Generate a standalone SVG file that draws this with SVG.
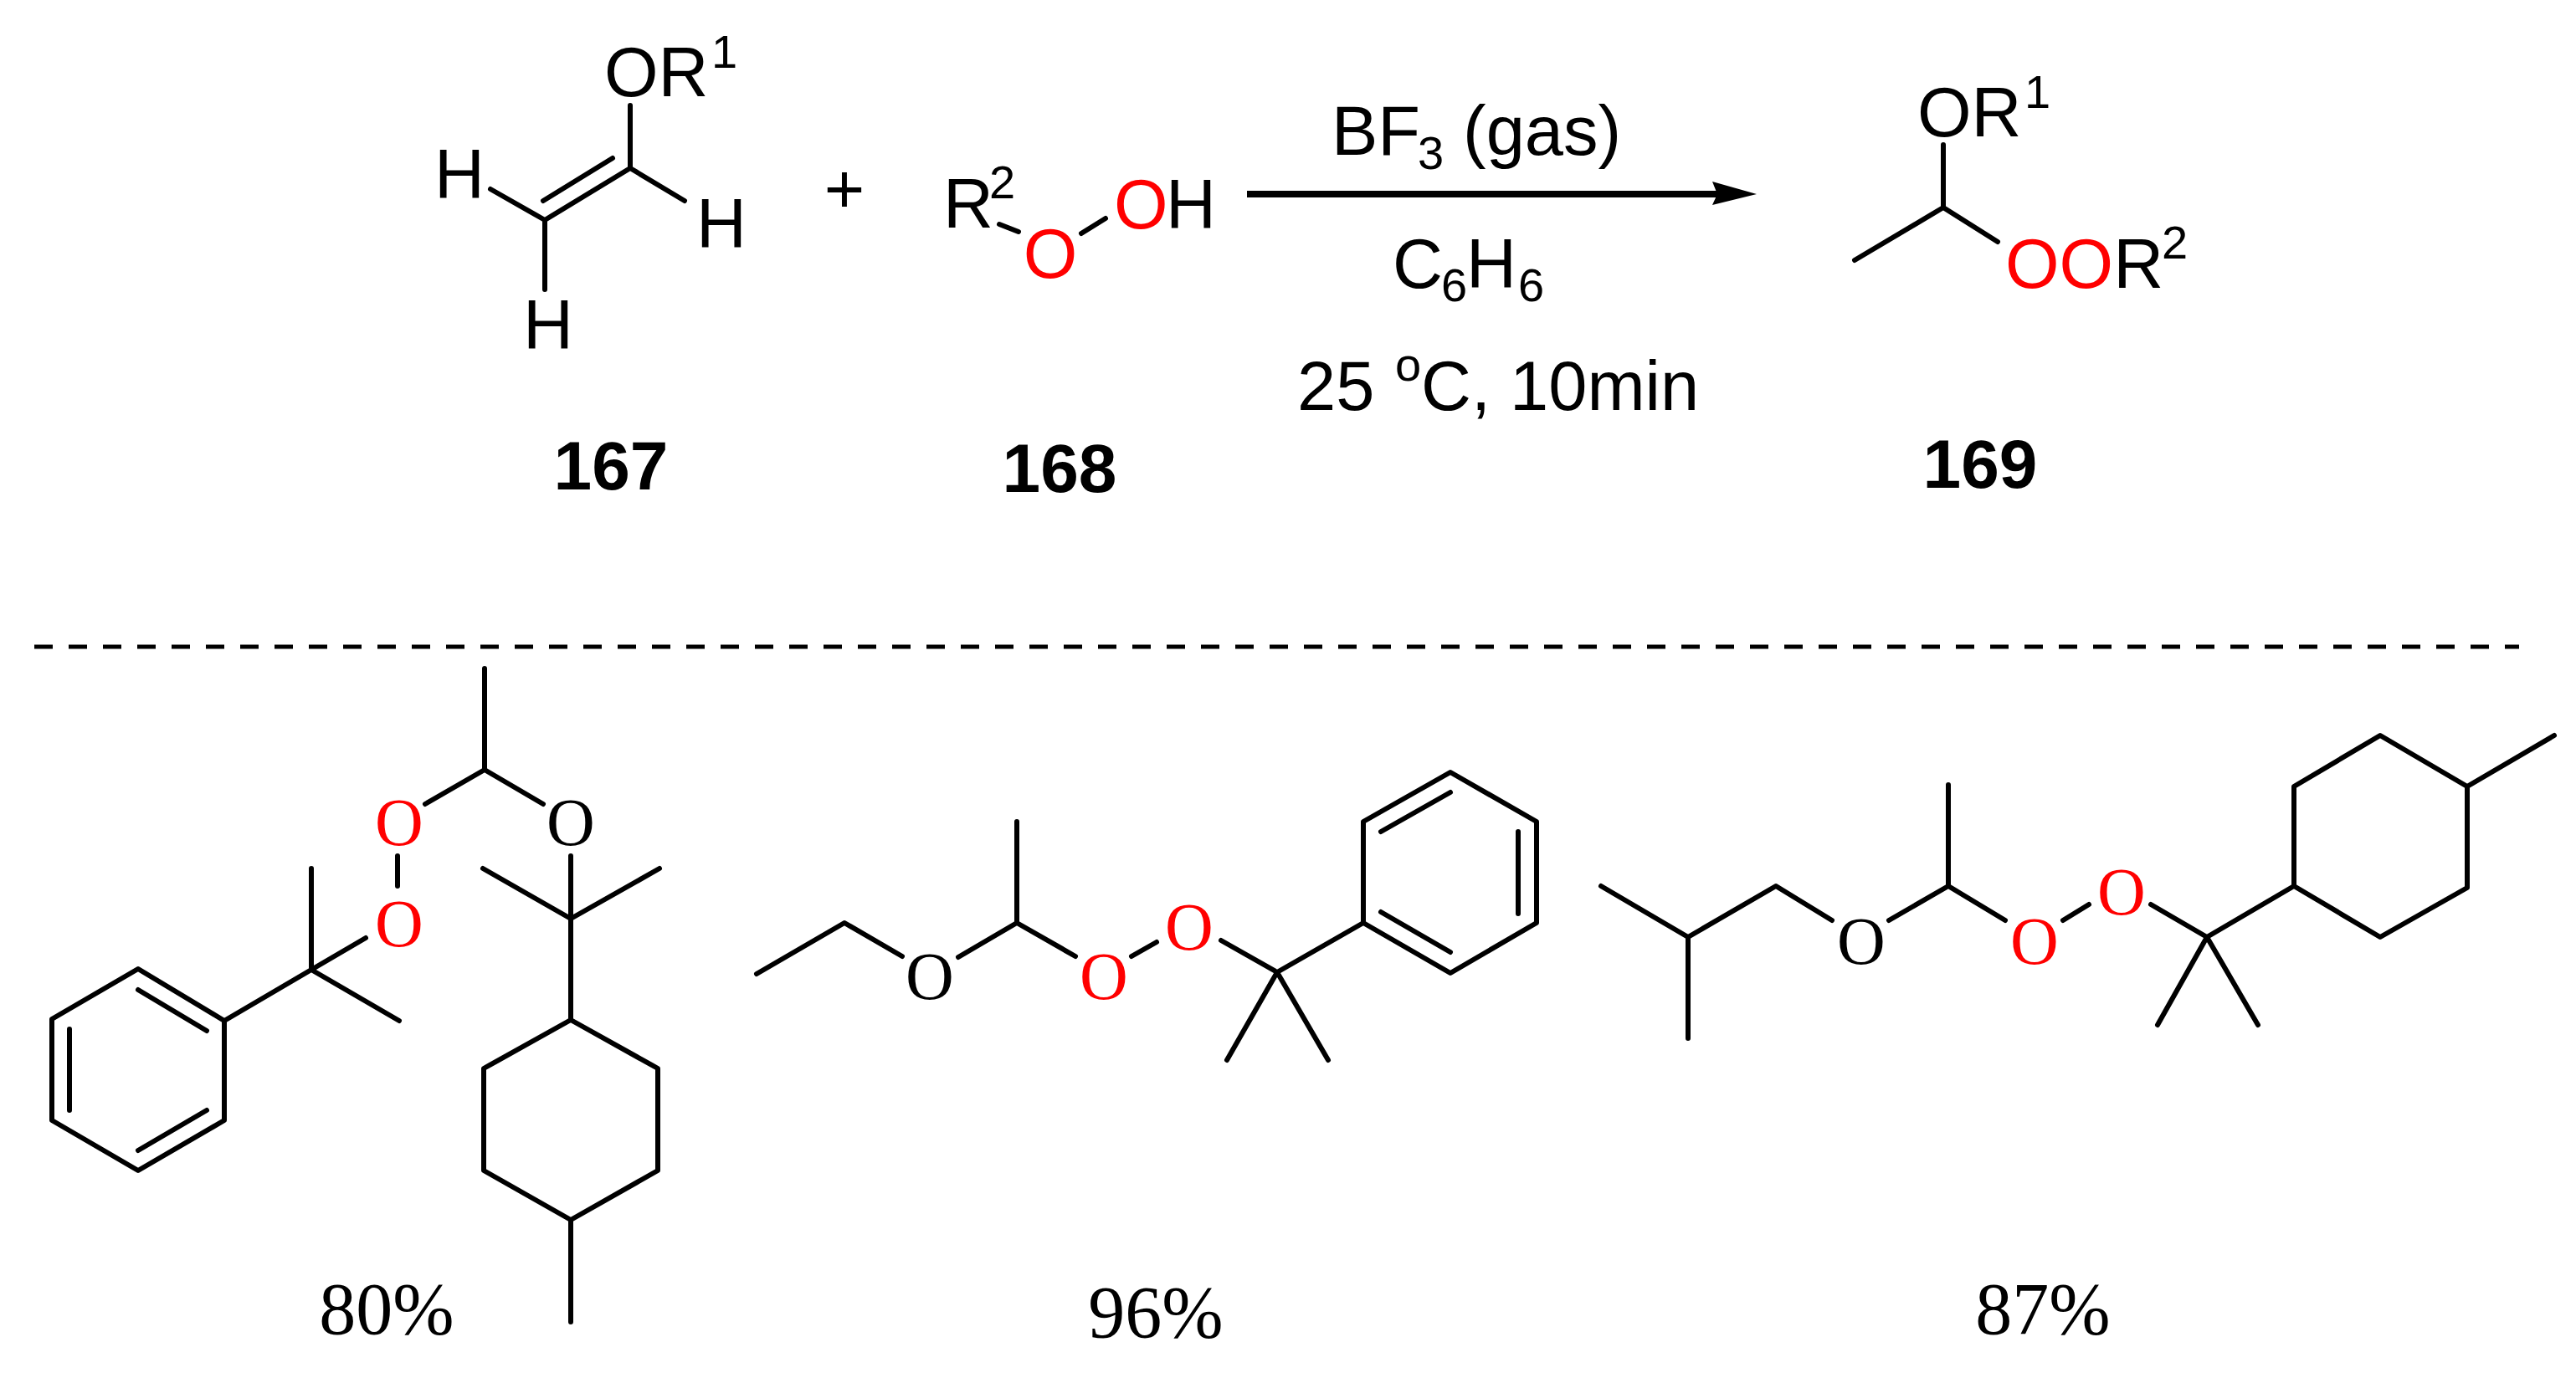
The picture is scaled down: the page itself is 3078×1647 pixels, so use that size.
<svg xmlns="http://www.w3.org/2000/svg" width="3078" height="1647" viewBox="0 0 3078 1647">
<style>
.b{stroke:#000;stroke-width:6;fill:none;stroke-linecap:round;stroke-linejoin:round}
.s{font-family:"Liberation Sans",Arial,sans-serif;font-size:83px;fill:#000}
.sup{font-family:"Liberation Sans",Arial,sans-serif;font-size:56px;fill:#000}
.bold{font-family:"Liberation Sans",Arial,sans-serif;font-size:82px;font-weight:bold;fill:#000;text-anchor:middle}
.o{font-family:"Liberation Serif","Times New Roman",serif;font-size:80px;text-anchor:middle}
.pct{font-family:"Liberation Serif","Times New Roman",serif;font-size:88px;text-anchor:middle;fill:#000}
.r{fill:#f00}
.k{fill:#000}
</style>
<rect width="3078" height="1647" fill="#fff"/>
<g id="compound167">
<path class="b" d="M753,126 V201 L651,263 V346 M651,263 L586,226 M753,201 L818,240 M732,189 L649,240"/>
<text class="s" x="722" y="115">OR</text><text class="sup" x="850" y="81">1</text>
<text class="s" x="519" y="237">H</text>
<text class="s" x="832" y="296">H</text>
<text class="s" x="625" y="417">H</text>
<text class="bold" x="730" y="585">167</text>
</g>
<g id="plus"><text class="s" x="1009" y="254" text-anchor="middle">+</text></g>
<g id="compound168">
<text class="s" x="1127" y="272">R</text><text class="sup" x="1182" y="237">2</text>
<path class="b" d="M1194,268 L1217,277 M1292,279 L1321,261"/>
<text class="s r" x="1255" y="332" text-anchor="middle">O</text>
<text class="s r" x="1331" y="273">O</text><text class="s" x="1393" y="273">H</text>
<text class="bold" x="1266" y="588">168</text>
</g>
<g id="arrow">
<path d="M1490,232 H2060" stroke="#000" stroke-width="8"/>
<path d="M2099,232 L2046,217 L2052,232 L2046,245 Z" fill="#000"/>
<text class="s" x="1591" y="185">BF</text><text class="sup" x="1694" y="202">3</text><text class="s" x="1748" y="185">(gas)</text>
<text class="s" x="1664" y="344">C</text><text class="sup" x="1722" y="360">6</text><text class="s" x="1752" y="344">H</text><text class="sup" x="1814" y="360">6</text>
<text class="s" x="1550" y="490">25 </text><text class="sup" x="1667" y="455">o</text><text class="s" x="1698" y="490">C, 10min</text>
</g>
<g id="compound169">
<path class="b" d="M2322,173 V248 L2216,311 M2322,248 L2387,289"/>
<text class="s" x="2291" y="163">OR</text><text class="sup" x="2419" y="129">1</text>
<text class="s" x="2396" y="344"><tspan fill="#f00">OO</tspan>R</text><text class="sup" x="2583" y="309">2</text>
<text class="bold" x="2366" y="583">169</text>
</g>
<g id="divider"><path d="M41,773 H3010" stroke="#000" stroke-width="5" stroke-dasharray="22 19"/></g>
<g id="product1">
<path class="b" d="M579,799 V920 L508,961 M475,1023 V1059 M437,1121 L372,1159 V1038 M372,1159 L477,1220 M372,1159 L268,1220 M268,1220 V1339 L165,1399 L62,1339 V1218 L165,1158 Z M165,1183 L247,1232 M83,1230 V1327 M165,1375 L247,1327 M579,920 L649,961 M682,1023 V1219 M577,1038 L682,1098 L788,1038 M682,1219 L786,1277 V1399 L682,1458 L578,1399 V1277 Z M682,1458 V1580"/>
<text class="o r" x="477" y="1010">O</text>
<text class="o r" x="477" y="1131">O</text>
<text class="o k" x="682" y="1010">O</text>
<text class="pct" x="462" y="1594">80%</text>
</g>
<g id="product2">
<path class="b" d="M904,1164 L1009,1103 L1078,1143 M1145,1144 L1215,1103 V982 M1215,1103 L1285,1143 M1352,1143 L1382,1126 M1459,1124 L1526,1162 L1466,1267 M1526,1162 L1587,1267 M1526,1162 L1629,1103 M1629,1103 V982 L1733,923 L1836,982 V1103 L1733,1163 Z M1650,994 L1733,947 M1814,994 V1092 M1650,1090 L1733,1138"/>
<text class="o k" x="1111" y="1194">O</text>
<text class="o r" x="1319" y="1194">O</text>
<text class="o r" x="1421" y="1135">O</text>
<text class="pct" x="1381" y="1598">96%</text>
</g>
<g id="product3">
<path class="b" d="M1913,1059 L2017,1120 V1241 M2017,1120 L2122,1059 L2189,1100 M2257,1100 L2328,1059 V938 M2328,1059 L2396,1100 M2465,1100 L2496,1081 M2570,1081 L2637,1120 L2578,1225 M2637,1120 L2698,1225 M2637,1120 L2741,1059 M2741,1059 V940 L2844,879 L2948,940 V1061 L2844,1120 Z M2948,940 L3052,879"/>
<text class="o k" x="2224" y="1152">O</text>
<text class="o r" x="2431" y="1152">O</text>
<text class="o r" x="2535" y="1093">O</text>
<text class="pct" x="2441" y="1594">87%</text>
</g>
</svg>
